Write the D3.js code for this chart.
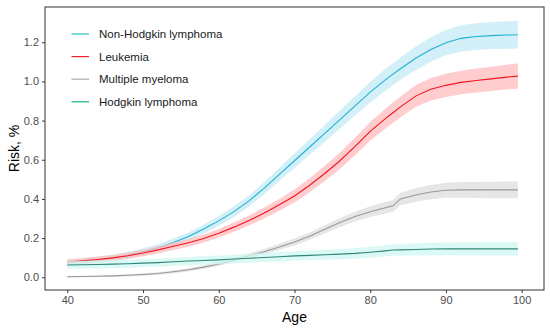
<!DOCTYPE html>
<html><head><meta charset="utf-8">
<script src="https://cdn.jsdelivr.net/npm/d3@7"></script>
<style>body{margin:0;background:#fff}svg{display:block}text{font-family:"Liberation Sans",Arial,sans-serif}</style>
</head><body><div id="chart"></div>
<script>
const ages = [40,42,44,46,48,50,52,54,56,58,60,62,64,66,68,70,72,74,76,78,80,82,83,84,86,88,90,92,94,96,98,99.5];
const seriesNames = ["Non-Hodgkin lymphoma","Leukemia","Multiple myeloma","Hodgkin lymphoma"];
const nhl = [0.072,0.080,0.089,0.099,0.112,0.130,0.150,0.178,0.208,0.246,0.288,0.335,0.390,0.455,0.525,0.595,0.665,0.735,0.805,0.875,0.945,1.008,1.037,1.065,1.118,1.163,1.198,1.220,1.229,1.234,1.237,1.238];
const nhlHalf = [0.015,0.015,0.016,0.016,0.017,0.018,0.019,0.020,0.021,0.023,0.025,0.027,0.029,0.031,0.034,0.037,0.040,0.043,0.046,0.049,0.052,0.055,0.056,0.057,0.060,0.063,0.065,0.067,0.068,0.069,0.070,0.070];
const leuk = [0.078,0.084,0.091,0.099,0.110,0.124,0.140,0.158,0.176,0.198,0.225,0.256,0.290,0.328,0.370,0.415,0.470,0.530,0.595,0.668,0.745,0.810,0.840,0.870,0.925,0.960,0.980,0.995,1.005,1.013,1.022,1.027];
const leukHalf = [0.014,0.014,0.015,0.015,0.016,0.017,0.018,0.019,0.020,0.021,0.022,0.024,0.026,0.028,0.030,0.033,0.036,0.039,0.042,0.045,0.048,0.051,0.052,0.053,0.055,0.057,0.059,0.060,0.061,0.062,0.063,0.064];
const myel = [0.003,0.004,0.005,0.007,0.010,0.014,0.019,0.028,0.038,0.052,0.068,0.088,0.110,0.130,0.155,0.180,0.210,0.245,0.280,0.310,0.335,0.355,0.365,0.400,0.420,0.435,0.444,0.446,0.446,0.446,0.446,0.446];
const myelHalf = [0.004,0.004,0.004,0.005,0.005,0.006,0.006,0.007,0.008,0.009,0.010,0.011,0.013,0.014,0.016,0.018,0.019,0.021,0.023,0.025,0.027,0.029,0.030,0.032,0.034,0.036,0.038,0.040,0.041,0.042,0.043,0.043];
const hodg = [0.063,0.064,0.065,0.067,0.069,0.072,0.075,0.079,0.083,0.086,0.089,0.093,0.097,0.101,0.105,0.109,0.112,0.115,0.118,0.122,0.128,0.135,0.139,0.140,0.142,0.144,0.145,0.145,0.145,0.145,0.145,0.145];
const hodgHalf = [0.020,0.020,0.020,0.020,0.020,0.020,0.021,0.021,0.021,0.022,0.022,0.022,0.023,0.023,0.024,0.024,0.025,0.025,0.026,0.027,0.028,0.029,0.029,0.030,0.031,0.032,0.033,0.034,0.034,0.035,0.035,0.035];
const xTicks = [40,50,60,70,80,90,100];
const yTicks = [0,0.2,0.4,0.6,0.8,1.0,1.2];

const lineColors = ["#1EB2D2","#F5141E","#999999","#2F8777"];
const legendColors = ["#22C2CC","#F2202A","#AAAAAA","#10AE84"];
const ribbonColors = ["#C4E9F6","#FFBCBE","#DEDEDE","#D0F8F1"];
const values = [nhl, leuk, myel, hodg];
const halves = [nhlHalf, leukHalf, myelHalf, hodgHalf];

const W = 550, H = 330;
const m = {l:45, r:6, t:7, b:40};
const svg = d3.select("#chart").append("svg").attr("width",W).attr("height",H);
const x = d3.scaleLinear().domain([37.05,102.95]).range([m.l, W-m.r]);
const y = d3.scaleLinear().domain([-0.065,1.38]).range([H-m.b, m.t]);

const plot = svg.append("g");
values.forEach((vals,i)=>{
  const pts = ages.map((a,j)=>({a, v: vals[j], lo: vals[j]-halves[i][j], hi: vals[j]+halves[i][j]}));
  plot.append("path").datum(pts)
    .attr("d", d3.area().x(d=>x(d.a)).y0(d=>y(d.lo)).y1(d=>y(d.hi)))
    .attr("fill", ribbonColors[i]).attr("fill-opacity",0.75);
  plot.append("path").datum(pts)
    .attr("d", d3.line().x(d=>x(d.a)).y(d=>y(d.v)))
    .attr("fill","none").attr("stroke", lineColors[i]).attr("stroke-width",1.1);
});

svg.append("rect").attr("x",m.l).attr("y",m.t).attr("width",W-m.r-m.l).attr("height",H-m.b-m.t)
  .attr("fill","none").attr("stroke","#333").attr("stroke-width",1);

const xAxis = svg.append("g").attr("transform",`translate(0,${H-m.b})`)
  .call(d3.axisBottom(x).tickValues(xTicks).tickSize(3).tickPadding(3).tickFormat(d3.format("d")));
const yAxis = svg.append("g").attr("transform",`translate(${m.l},0)`)
  .call(d3.axisLeft(y).tickValues(yTicks).tickSize(3).tickPadding(3).tickFormat(d3.format(".1f")));
[xAxis,yAxis].forEach(g=>{
  g.select(".domain").remove();
  g.selectAll(".tick line").attr("stroke","#333");
  g.selectAll(".tick text").attr("fill","#4D4D4D").style("font-size","11px");
});

svg.append("text").attr("x",(m.l+W-m.r)/2).attr("y",322).attr("text-anchor","middle")
  .style("font-size","14px").attr("fill","#000").text("Age");
svg.append("text").attr("transform",`translate(19,${(m.t+H-m.b)/2}) rotate(-90)`).attr("text-anchor","middle")
  .style("font-size","14px").attr("fill","#000").text("Risk, %");

const leg = svg.append("g");
seriesNames.forEach((n,i)=>{
  const yy = 34 + i*22.6;
  leg.append("line").attr("x1",71.5).attr("x2",89).attr("y1",yy).attr("y2",yy)
    .attr("stroke",legendColors[i]).attr("stroke-width",1.2);
  leg.append("text").attr("x",99).attr("y",yy).attr("dy","0.35em")
    .style("font-size","11.5px").attr("fill","#1a1a1a").text(n);
});
</script></body></html>
